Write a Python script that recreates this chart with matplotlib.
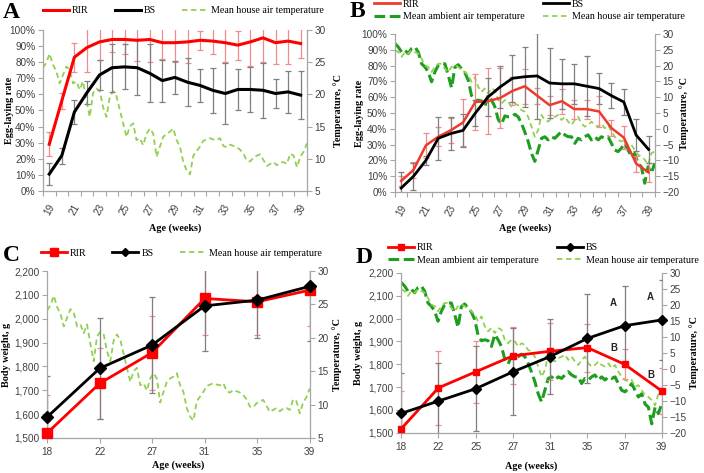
import numpy as np
import matplotlib
matplotlib.use('Agg')
import matplotlib.pyplot as plt
from matplotlib.lines import Line2D
from matplotlib.ticker import FuncFormatter, MultipleLocator

# ---------------- data ----------------
weeks_ab = list(range(19, 40))

rir_a = [29, 56, 83, 89, 92.5, 94, 94, 93.5, 94, 92, 92, 92.5, 93.5, 93, 92, 90.5, 92.5, 95, 92, 93, 91.5]
rir_a_sd = [7.5, 5, 9, 15, 11, 8, 9, 13, 14, 10, 12, 13, 6, 8, 12, 9, 15, 15, 13, 14, 9]
bs_a = [10.5, 22, 49, 61, 72, 76.5, 77, 76.5, 73, 68.5, 70.5, 67.5, 65.5, 62.5, 60.5, 63, 63, 62.5, 60.5, 61.5, 59.5]
bs_a_sd = [7, 5, 7.5, 7, 9.5, 15, 14, 17, 18, 13, 10, 15, 10, 14, 19, 13, 14, 17, 9, 13, 15]

house_a = [24.1, 24.9, 26.3, 24.6, 23.6, 21.7, 23.0, 24.3, 23.8, 21.7,
           22.0, 20.7, 22.0, 19.1, 16.5, 20.2, 20.9, 20.5, 18.0, 16.5,
           19.6, 20.5, 19.7, 17.6, 15.5, 13.4, 15.0, 15.5, 12.9, 13.2,
           12.1, 13.9, 14.7, 13.9, 10.3, 11.9, 13.4, 13.9, 14.2, 14.7,
           12.9, 11.9, 9.5, 8.2, 7.6, 10.5, 11.2, 11.9, 12.8, 13.0,
           13.2, 13.0, 12.9, 13.2, 12.0, 11.8, 12.2, 12.0, 11.8, 11.4,
           10.8, 9.7, 9.6, 10.2, 10.5, 10.7, 9.8, 8.9, 9.2, 9.5,
           9.0, 9.4, 9.5, 9.2, 10.8, 10.5, 8.7, 10.3, 11.1, 12.4]

rir_b = [7, 14, 29.5, 35, 39, 44, 57, 57.5, 59.5, 64, 67, 61, 55, 57.5, 52.5, 52.5, 51, 40.5, 34.5, 18, 12.5]
rir_b_sd = [3, 5, 8, 6, 8, 15, 18, 21, 19, 9, 11, 5, 6, 8, 6, 6, 10, 5, 7, 5, 6]
bs_b = [2.5, 10, 20, 34, 37, 39, 50, 60, 66.5, 72, 73, 73.5, 69, 68.5, 68.5, 67, 65.5, 61, 57, 36, 27]
bs_b_sd = [10, 8.5, 3, 13.5, 10.5, 10.5, 8, 12, 13, 15, 19, 27, 22, 16, 12.5, 19, 10, 8, 8, 10, 8.5]

ambient_b = [27.0, 25.9, 24.3, 24.9, 23.8, 25.4, 25.9, 24.3, 20.6, 19.6,
             18.0, 14.9, 18.0, 20.1, 20.6, 20.6, 17.0, 13.0, 19.5, 20.3,
             19.0, 17.8, 15.4, 10.5, 8.8, 9.1, 8.8, 7.0, 10.7, 9.1,
             7.0, 3.0, 1.5, 4.1, 3.8, 3.8, 4.6, 3.8, 1.7, -1.0,
             -4.0, -7.8, -10.3, -6.7, -3.0, -2.5, -3.5, -2.5, -3.0, -1.9,
             -0.9, -1.9, -2.5, -2.5, -4.6, -3.0, -3.5, -2.5, -1.9, -3.5,
             -2.5, -3.5, -2.5, -3.0, -2.5, -4.6, -6.7, -7.2, -6.1, -4.6,
             -6.7, -8.8, -7.8, -11.0, -12.0, -17.2, -12.0, -14.0, -10.9]
house_b = [24.9, 24.3, 22.8, 24.3, 23.8, 24.9, 24.3, 23.8, 22.2, 20.1,
           19.6, 18.0, 19.6, 20.6, 20.6, 19.0, 18.0, 19.6, 20.1, 19.6,
           18.6, 18.0, 17.0, 14.9, 16.4, 13.3, 11.7, 12.8, 11.2, 12.8,
           12.2, 9.1, 8.0, 9.1, 8.6, 7.0, 8.0, 7.5, 5.9, 5.4,
           3.8, 0.7, -2.5, -0.4, 4.4, 2.8, 2.3, 3.3, 3.8, 4.4,
           2.8, 3.8, 2.3, 1.2, 2.8, 3.8, 1.7, 0.7, 1.2, 2.3,
           1.2, 0.7, 1.7, 0.2, 1.2, -0.9, -2.5, -3.5, -4.0, -3.5,
           -5.6, -5.1, -6.7, -8.2, -8.8, -9.8, -11.4, -7.7, -7.2]

weeks_c = [18, 22, 27, 31, 35, 39]
rir_c = [1521, 1729, 1858, 2085, 2071, 2120]
rir_c_sd = [160, 150, 155, 155, 140, 150]
bs_c = [1588, 1792, 1890, 2054, 2078, 2136]
bs_c_sd = [170, 212, 200, 190, 160, 230]

weeks_d = [18, 22, 25, 27, 31, 35, 37, 39]
rir_d = [1518, 1697, 1767, 1837, 1857, 1873, 1800, 1683]
rir_d_sd = [165, 162, 135, 125, 125, 105, 65, 100]
bs_d = [1585, 1639, 1693, 1767, 1834, 1913, 1969, 1994]
bs_d_sd = [175, 165, 185, 190, 165, 195, 175, 175]
sig_bs_d = ['', '', '', '', '', '', 'A', 'A']
sig_rir_d = ['', '', '', '', '', '', 'B', 'B']

# ---------------- style ----------------
RED = '#FF0000'
RED_ERR = '#F28B8B'
BLK = '#000000'
GRY_ERR = '#7F7F7F'
LGREEN = '#92D050'
DGREEN = '#1E9E1E'
AXC = '#A6A6A6'
TXT = '#404040'
SERIF = 'Liberation Serif'
LBL = 7.3
TICK = 7.2

plt.rcParams['font.family'] = ['Liberation Sans Narrow', 'Liberation Sans']

fig = plt.figure(figsize=(7.04, 4.73), dpi=100)


def make_axes(rect):
    ax = fig.add_axes(rect)
    ax2 = ax.twinx()
    ax.patch.set_visible(False)
    for s in ['top', 'right']:
        ax.spines[s].set_visible(False)
    for s in ['top', 'left', 'bottom']:
        ax2.spines[s].set_visible(False)
    for a in (ax, ax2):
        for s in a.spines.values():
            s.set_color(AXC)
            s.set_linewidth(0.9)
        a.tick_params(colors=AXC, labelcolor=TXT, labelsize=TICK, length=3.5, width=0.8, direction='out', pad=2)
    return ax, ax2


def temp_line(ax2, vals, x0, x1, color, lw, dash):
    x = np.linspace(x0, x1, len(vals))
    ax2.plot(x, vals, color=color, lw=lw, dashes=dash, zorder=1)


def place_labels(ax, ax2, yl, yr, xb):
    ax.yaxis.set_label_coords(yl, 0.5)
    ax2.yaxis.set_label_coords(yr, 0.5)
    ax.xaxis.set_label_coords(0.5, xb)


pct = FuncFormatter(lambda v, p: f'{v:.0f}%')
comma = FuncFormatter(lambda v, p: f'{v:,.0f}')


def setup_ab(ax, ax2, tlim, tstep):
    n = len(weeks_ab)
    ax.set_xlim(-0.5, n - 0.5)
    ax.set_ylim(0, 100)
    ax.yaxis.set_major_locator(MultipleLocator(10))
    ax.yaxis.set_major_formatter(pct)
    ax.set_xticks(range(0, n, 2))
    ax.set_xticklabels([str(w) for w in weeks_ab[::2]], rotation=60, ha='center', va='top')
    ax.set_xticks(np.arange(-0.5, n, 1.0), minor=True)
    ax.tick_params(axis='x', which='major', length=0, pad=8)
    ax.tick_params(axis='x', which='minor', length=3.5, color=AXC, width=0.8)
    ax2.set_ylim(*tlim)
    ax2.yaxis.set_major_locator(MultipleLocator(tstep))
    ax.set_ylabel('Egg-laying rate', family=SERIF, fontweight='bold', fontsize=LBL)
    ax.set_xlabel('Age (weeks)', family=SERIF, fontweight='bold', fontsize=LBL, va='center')
    ax2.set_ylabel('Temperature, \u00b0C', family=SERIF, fontweight='bold', fontsize=LBL, va='center')
    ax.yaxis.label.set_va('center')


def eb(ax, x, y, e, color):
    ax.errorbar(x, y, yerr=e, fmt='none', ecolor=color, elinewidth=0.9, capsize=2.2, capthick=0.9, zorder=2)


leg_prop = {'family': SERIF, 'size': 7.2}

# ---------------- Panel A ----------------
axA, axA2 = make_axes([0.061, 0.596, 0.375, 0.341])
setup_ab(axA, axA2, (5, 30), 5)
place_labels(axA, axA2, -0.125, 1.117, -0.23)
temp_line(axA2, house_a, -0.5, len(weeks_ab) - 0.5, LGREEN, 1.3, (3, 2))
xa = np.arange(len(weeks_ab))
eb(axA, xa, rir_a, rir_a_sd, RED_ERR)
eb(axA, xa, bs_a, bs_a_sd, GRY_ERR)
axA.plot(xa, rir_a, color=RED, lw=2.2, zorder=5)
axA.plot(xa, bs_a, color=BLK, lw=2.2, zorder=5)
axA.set_zorder(axA2.get_zorder() + 1)
hA = [Line2D([], [], color=RED, lw=2.2), Line2D([], [], color=BLK, lw=2.2),
      Line2D([], [], color=LGREEN, lw=1.3, dashes=(3, 2))]
fig.legend(hA, ['RIR', 'BS', 'Mean house air temperature'], ncol=3, loc='center left',
           bbox_to_anchor=(0.061, 0.977), frameon=False, prop=leg_prop, handlelength=2.6,
           handletextpad=0.3, columnspacing=2.6, borderpad=0, borderaxespad=0)

# ---------------- Panel B ----------------
axB, axB2 = make_axes([0.561, 0.594, 0.369, 0.334])
setup_ab(axB, axB2, (-20, 30), 5)
place_labels(axB, axB2, -0.138, 1.115, -0.228)
nb = len(weeks_ab)
temp_line(axB2, ambient_b, -0.5, nb - 0.5, DGREEN, 2.2, (3.5, 1.5))
temp_line(axB2, house_b, -0.5, nb - 0.5, LGREEN, 1.3, (3, 2))
eb(axB, xa, rir_b, rir_b_sd, RED_ERR)
eb(axB, xa, bs_b, bs_b_sd, GRY_ERR)
axB.plot(xa, rir_b, color='#F03A2E', lw=1.8, zorder=5)
axB.plot(xa, bs_b, color=BLK, lw=2.0, zorder=5)
axB.set_zorder(axB2.get_zorder() + 1)
hB = [Line2D([], [], color='#F03A2E', lw=2), Line2D([], [], color=DGREEN, lw=2.2, dashes=(3.5, 1.5)),
      Line2D([], [], color=BLK, lw=2), Line2D([], [], color=LGREEN, lw=1.3, dashes=(3, 2))]
fig.legend(hB, ['RIR', 'Mean ambient air temperature', 'BS', 'Mean house air temperature'], ncol=2,
           loc='center left', bbox_to_anchor=(0.531, 0.978), frameon=False, prop=leg_prop,
           handlelength=2.6, handletextpad=0.3, columnspacing=1.8, labelspacing=0.35,
           borderpad=0, borderaxespad=0)


# ---------------- Panel C / D ----------------
def setup_cd(ax, ax2, weeks, tlim):
    n = len(weeks)
    ax.set_xlim(0, n - 1)
    ax.set_ylim(1500, 2200)
    ax.yaxis.set_major_locator(MultipleLocator(100))
    ax.yaxis.set_major_formatter(comma)
    ax.set_xticks(range(n))
    ax.set_xticklabels([str(w) for w in weeks])
    ax.tick_params(axis='x', pad=3)
    ax2.set_ylim(*tlim)
    ax2.yaxis.set_major_locator(MultipleLocator(5))
    ax.set_ylabel('Body weight, g', family=SERIF, fontweight='bold', fontsize=LBL, va='center')
    ax.set_xlabel('Age (weeks)', family=SERIF, fontweight='bold', fontsize=LBL, va='center')
    ax2.set_ylabel('Temperature, \u00b0C', family=SERIF, fontweight='bold', fontsize=LBL, va='center')


axC, axC2 = make_axes([0.067, 0.074, 0.373, 0.353])
setup_cd(axC, axC2, weeks_c, (5, 30))
place_labels(axC, axC2, -0.155, 1.106, -0.165)
nc = len(weeks_c)
temp_line(axC2, house_a, 0, nc - 1, LGREEN, 1.3, (3, 2))
xc = np.arange(nc)
eb(axC, xc, rir_c, rir_c_sd, RED_ERR)
eb(axC, xc, bs_c, bs_c_sd, GRY_ERR)
axC.plot(xc, rir_c, color=RED, lw=2.0, marker='s', ms=7, zorder=5, clip_on=False)
axC.plot(xc, bs_c, color=BLK, lw=2.0, marker='D', ms=6, zorder=6, clip_on=False)
axC.set_zorder(axC2.get_zorder() + 1)
hC = [Line2D([], [], color=RED, lw=2, marker='s', ms=6), Line2D([], [], color=BLK, lw=2, marker='D', ms=4.5),
      Line2D([], [], color=LGREEN, lw=1.3, dashes=(3, 2))]
fig.legend(hC, ['RIR', 'BS', 'Mean house air temperature'], ncol=3, loc='center left',
           bbox_to_anchor=(0.058, 0.465), frameon=False, prop=leg_prop, handlelength=2.6,
           handletextpad=0.3, columnspacing=2.6, borderpad=0, borderaxespad=0)

axD, axD2 = make_axes([0.570, 0.085, 0.370, 0.338])
setup_cd(axD, axD2, weeks_d, (-20, 30))
place_labels(axD, axD2, -0.165, 1.123, -0.206)
nd = len(weeks_d)
temp_line(axD2, ambient_b, 0, nd - 1, DGREEN, 2.2, (3.5, 1.5))
temp_line(axD2, house_b, 0, nd - 1, LGREEN, 1.3, (3, 2))
xd = np.arange(nd)
eb(axD, xd, rir_d, rir_d_sd, RED_ERR)
eb(axD, xd, bs_d, bs_d_sd, GRY_ERR)
axD.plot(xd, rir_d, color=RED, lw=2.0, marker='s', ms=5, zorder=5, clip_on=False)
axD.plot(xd, bs_d, color=BLK, lw=2.0, marker='D', ms=5, zorder=6, clip_on=False)
for i in range(nd):
    if sig_bs_d[i]:
        axD.annotate(sig_bs_d[i], (xd[i], bs_d[i]), xytext=(-8, 13), textcoords='offset points',
                     ha='center', va='bottom', family='Liberation Sans', fontweight='bold', fontsize=7, color='#262626')
    if sig_rir_d[i]:
        axD.annotate(sig_rir_d[i], (xd[i], rir_d[i]), xytext=(-8, 8), textcoords='offset points',
                     ha='center', va='bottom', family='Liberation Sans', fontweight='bold', fontsize=7, color='#262626')
axD.set_zorder(axD2.get_zorder() + 1)
hD = [Line2D([], [], color=RED, lw=2, marker='s', ms=4.5), Line2D([], [], color=DGREEN, lw=2.2, dashes=(3.5, 1.5)),
      Line2D([], [], color=BLK, lw=2, marker='D', ms=4), Line2D([], [], color=LGREEN, lw=1.3, dashes=(3, 2))]
fig.legend(hD, ['RIR', 'Mean ambient air temperature', 'BS', 'Mean house air temperature'], ncol=2,
           loc='center left', bbox_to_anchor=(0.551, 0.463), frameon=False, prop=leg_prop,
           handlelength=2.6, handletextpad=0.3, columnspacing=1.8, labelspacing=0.35,
           borderpad=0, borderaxespad=0)

# panel letters
for x, y, t in [(0.004, 0.995, 'A'), (0.497, 0.998, 'B'), (0.004, 0.482, 'C'), (0.505, 0.478, 'D')]:
    fig.text(x, y, t, family=SERIF, fontweight='bold', fontsize=17, va='top', ha='left')

fig.savefig('out.png', dpi=100)
